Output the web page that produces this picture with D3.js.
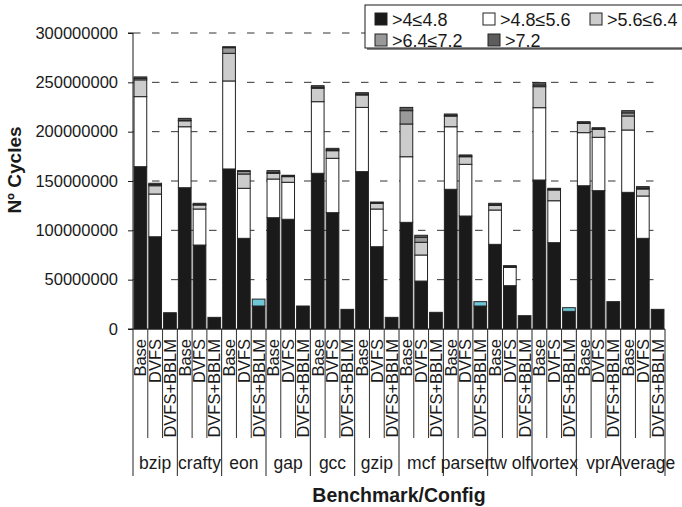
<!DOCTYPE html>
<html>
<head>
<meta charset="utf-8">
<script src="https://cdn.jsdelivr.net/npm/d3@7"></script>
<style>
  body { margin: 0; background: #fff; }
  text { font-family: "Liberation Sans", Arial, Helvetica, sans-serif; fill: #1a1a1a; }
</style>
</head>
<body>
<div id="chart"></div>
<script>
//////////////////////////////////////////////////////////////
///////////////////////// Data ///////////////////////////////
//////////////////////////////////////////////////////////////

var benchmarks = ["bzip", "crafty", "eon", "gap", "gcc", "gzip", "mcf", "parser", "tw olf", "vortex", "vpr", "Average"];
var configs = ["Base", "DVFS", "DVFS+BBLM"];

// cycles in millions, order: benchmark by benchmark, Base / DVFS / DVFS+BBLM
var s4to48 = [164.5, 93.5, 16.5,  143.2, 85.1, 11.8,  162.2, 91.9, 23.3,  112.8, 111.2, 23.3,
              157.8, 117.9, 19.9,  159.5, 83.4, 11.8,  108.1, 48.6, 16.9,  141.6, 114.5, 23.3,
              85.8, 43.9, 13.5,  151.0, 87.5, 17.9,  145.2, 140.2, 27.7,  138.5, 91.9, 19.9];
var s48to56 = [71.0, 43.3, 0,  61.8, 36.5, 0,  89.2, 50.7, 0,  39.2, 37.5, 0,
               72.6, 55.1, 0,  65.1, 38.2, 0,  66.5, 26.4, 0,  63.4, 52.4, 0,
               34.8, 18.6, 0,  73.3, 42.5, 0,  53.8, 54.1, 0,  63.2, 42.9, 0];
var s56to64 = [17.0, 8.4, 0,  6.0, 4.1, 0,  28.0, 14.5, 0,  5.8, 5.7, 0,
               13.6, 7.7, 0,  12.6, 5.8, 0,  33.2, 12.9, 0,  10.8, 7.7, 0,
               4.7, 0.5, 0,  21.3, 10.9, 0,  9.4, 8.1, 0,  14.2, 7.1, 0];
var s64to72 = [1.5, 1.2, 0,  0.5, 0.4, 0,  5.7, 2.7, 0,  0.7, 0.4, 0,
               1.0, 1.0, 0,  0.8, 0.4, 0,  13.5, 5.0, 0,  0.7, 0.6, 0,
               0.7, 0.3, 0,  1.6, 0.6, 0,  0.5, 0.5, 0,  3.1, 1.0, 0];
var sOver72 = [1.5, 1.3, 0,  2.0, 1.3, 0,  1.0, 0.7, 0,  2.0, 1.0, 0,
               1.6, 1.4, 0,  1.5, 0.9, 0,  3.3, 2.1, 0,  1.4, 1.2, 0,
               1.4, 0.9, 0,  2.5, 1.1, 0,  1.2, 1.1, 0,  2.3, 1.4, 0];
// small unlabelled segment seen on some DVFS+BBLM bars
var sOther = [0, 0, 0,  0, 0, 0,  0, 0, 7.0,  0, 0, 0,
              0, 0, 0,  0, 0, 0,  0, 0, 0,  0, 0, 4.4,
              0, 0, 0,  0, 0, 3.7,  0, 0, 0,  0, 0, 0];

var seriesNames = [">4\u22644.8", ">4.8\u22645.6", ">5.6\u22646.4", ">6.4\u22647.2", ">7.2", "other"];
var seriesValues = [s4to48, s48to56, s56to64, s64to72, sOver72, sOther];
var yTicks = [0, 50000000, 100000000, 150000000, 200000000, 250000000, 300000000];

//////////////////////////////////////////////////////////////
/////////////////////// Settings /////////////////////////////
//////////////////////////////////////////////////////////////

var width = 682, height = 507;
var plot = {left: 133, right: 665, top: 33, bottom: 329};

var colors = ["#1a1a1a", "#ffffff", "#cccccc", "#999999", "#5c5c5c", "#6ec6d6"];

// build one row per bar
var rows = [];
benchmarks.forEach(function(b, i) {
    configs.forEach(function(c, j) {
        var row = {bench: b, config: c};
        seriesNames.forEach(function(s, k) { row[s] = seriesValues[k][i*3 + j] * 1e6; });
        rows.push(row);
    });
});

var stack = d3.stack().keys(seriesNames);
var stacked = stack(rows);

//////////////////////////////////////////////////////////////
///////////////////// Scales & Axes //////////////////////////
//////////////////////////////////////////////////////////////

var xGroup = d3.scaleBand().domain(benchmarks).range([plot.left, plot.right]);
var xInner = d3.scaleBand().domain(configs).range([0, xGroup.bandwidth()])
    .paddingInner(0.14).paddingOuter(0.07);
var slotW = xGroup.bandwidth() / configs.length;

var yScale = d3.scaleLinear().domain([0, 300000000]).range([plot.bottom, plot.top]);

var svg = d3.select("#chart").append("svg")
    .attr("width", width)
    .attr("height", height);

//Gridlines
svg.append("g").selectAll("line")
    .data(yTicks.slice(1)).enter()
    .append("line")
        .attr("x1", plot.left)
        .attr("x2", plot.right - 5)
        .attr("y1", function(d) { return yScale(d); })
        .attr("y2", function(d) { return yScale(d); })
        .attr("stroke", "#333")
        .attr("stroke-width", 1)
        .attr("stroke-dasharray", "7.5,11.5");

//Bars
svg.append("g").selectAll("g")
    .data(stacked).enter()
    .append("g")
        .attr("fill", function(d, i) { return colors[i]; })
    .selectAll("rect")
    .data(function(d) { return d; }).enter()
    .append("rect")
        .filter(function(d) { return d[1] - d[0] > 0; })
        .attr("x", function(d) { return xGroup(d.data.bench) + xInner(d.data.config); })
        .attr("width", xInner.bandwidth())
        .attr("y", function(d) { return yScale(d[1]); })
        .attr("height", function(d) { return yScale(d[0]) - yScale(d[1]); })
        .attr("stroke", "#222")
        .attr("stroke-width", 1);

//Y axis
var yAxis = d3.axisLeft(yScale).tickValues(yTicks).tickSize(5).tickPadding(10)
    .tickFormat(d3.format("d"));
var gy = svg.append("g")
    .attr("transform", "translate(" + plot.left + ",0)")
    .call(yAxis);
gy.selectAll("text").style("font-size", "16.5px").attr("fill", "#1a1a1a");
gy.selectAll("line, path").attr("stroke", "#1a1a1a");
gy.select(".domain").attr("d", "M-5," + plot.top + "H0V" + plot.bottom);

//X axis line
svg.append("line")
    .attr("x1", plot.left - 5).attr("x2", plot.right)
    .attr("y1", plot.bottom).attr("y2", plot.bottom)
    .attr("stroke", "#1a1a1a");

//Category separators
var xAx = svg.append("g");
benchmarks.forEach(function(b) {
    var gx = xGroup(b);
    xAx.append("line")
        .attr("x1", gx).attr("x2", gx)
        .attr("y1", plot.bottom).attr("y2", 476)
        .attr("stroke", "#222");
    [1, 2].forEach(function(k) {
        xAx.append("line")
            .attr("x1", gx + k*slotW).attr("x2", gx + k*slotW)
            .attr("y1", plot.bottom).attr("y2", 438)
            .attr("stroke", "#333");
    });
    configs.forEach(function(c, j) {
        xAx.append("text")
            .attr("transform", "translate(" + (gx + (j+1)*slotW - 1.5) + ",339) rotate(-90)")
            .attr("text-anchor", "end")
            .style("font-size", "16.5px")
            .text(c);
    });
    xAx.append("text")
        .attr("x", gx + xGroup.bandwidth()/2)
        .attr("y", 469)
        .attr("text-anchor", "middle")
        .style("font-size", "17.5px")
        .text(b);
});
xAx.append("line")
    .attr("x1", plot.right).attr("x2", plot.right)
    .attr("y1", plot.bottom).attr("y2", 476)
    .attr("stroke", "#222");

//Axis titles
svg.append("text")
    .attr("transform", "translate(21,170) rotate(-90)")
    .attr("text-anchor", "middle")
    .style("font-size", "19px")
    .style("font-weight", "bold")
    .text("N\u00ba Cycles");

svg.append("text")
    .attr("x", 399)
    .attr("y", 502)
    .attr("text-anchor", "middle")
    .style("font-size", "19.5px")
    .style("font-weight", "bold")
    .text("Benchmark/Config");

//////////////////////////////////////////////////////////////
////////////////////// Legend ////////////////////////////////
//////////////////////////////////////////////////////////////

var legend = svg.append("g");
legend.append("rect")
    .attr("x", 367).attr("y", 7).attr("width", 340).attr("height", 43)
    .attr("fill", "#888");
legend.append("rect")
    .attr("x", 365).attr("y", 5).attr("width", 340).attr("height", 43)
    .attr("fill", "#fff").attr("stroke", "#1a1a1a");

var legendPos = [[375, 19], [483, 19], [590, 19], [375, 40], [488, 40]];
var legendItems = legend.selectAll(".legendItem")
    .data(seriesNames.slice(0, 5)).enter()
    .append("g")
        .attr("transform", function(d, i) { return "translate(" + legendPos[i][0] + "," + legendPos[i][1] + ")"; });

legendItems.append("rect")
    .attr("x", 0).attr("y", -6)
    .attr("width", 12).attr("height", 12)
    .attr("fill", function(d, i) { return colors[i]; })
    .attr("stroke", "#222");

legendItems.append("text")
    .attr("x", 17).attr("y", 6.5)
    .style("font-size", "18px")
    .text(function(d) { return d; });
</script>
</body>
</html>
